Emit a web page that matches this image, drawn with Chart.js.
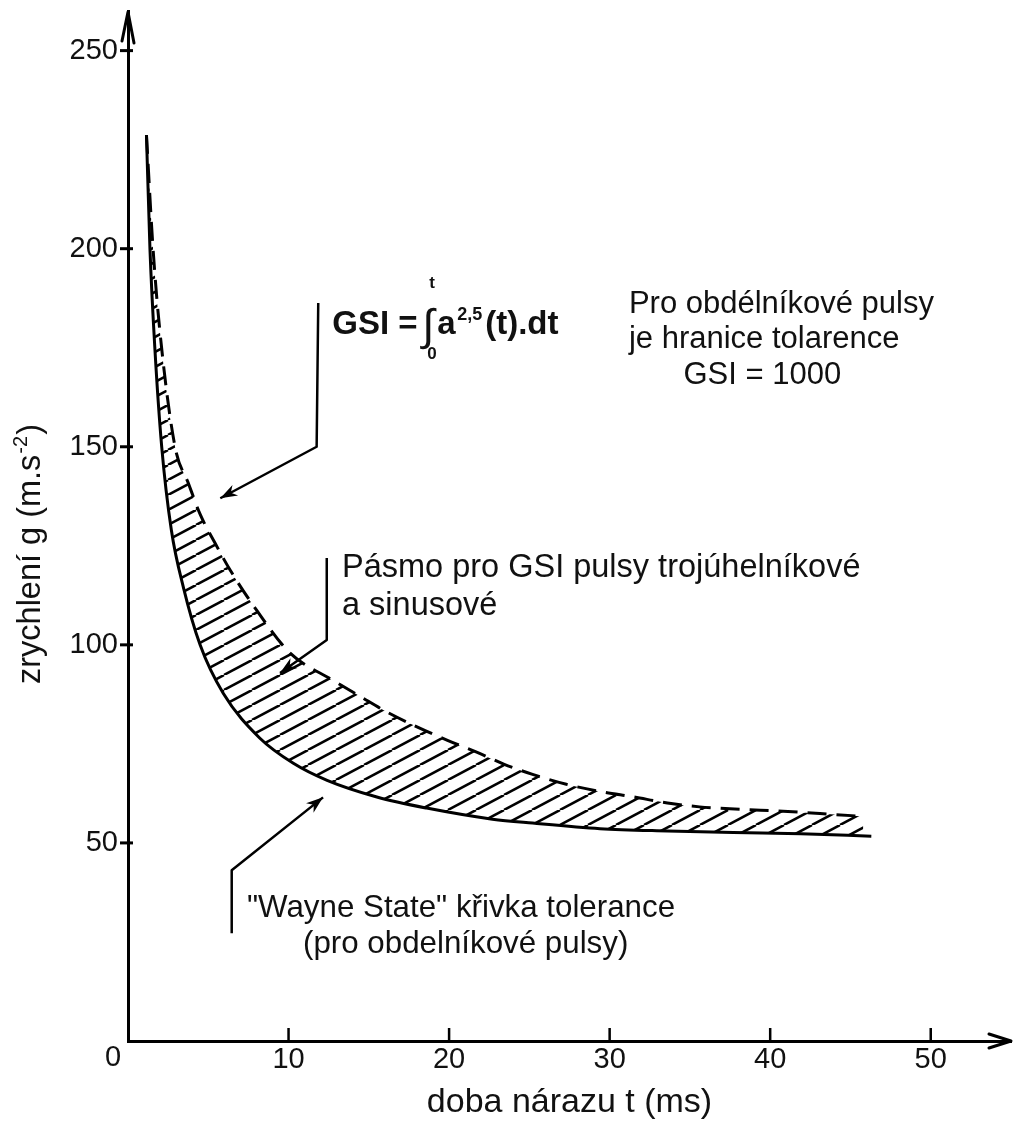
<!DOCTYPE html>
<html><head><meta charset="utf-8">
<script src="https://cdn.jsdelivr.net/npm/chart.js@4.4.1/dist/chart.umd.min.js"></script>
<style>html,body{margin:0;padding:0;background:#fff;}#wrap{width:1014px;height:1126px;position:relative;}</style>
</head><body><div id="wrap"><canvas id="c" width="1014" height="1126"></canvas></div>
<script>
// ---- data ----
const xTicks = [0, 10, 20, 30, 40, 50];
const yTicks = [0, 50, 100, 150, 200, 250];
// "Wayne State" tolerance curve (solid)
const solidT = [1.15, 1.37, 1.68, 2.1, 2.7, 3.45, 4.49, 5.94, 8.2, 10.3, 12.4, 15.5, 18.6, 22.7, 25.2, 29.4, 33.6, 37.7, 41.9, 46.3];
const solidG = [228.7, 199.7, 174.4, 150, 129, 114.5, 100, 87.7, 76.5, 70.1, 65.8, 61.6, 58.8, 56.0, 55.0, 53.6, 53.0, 52.6, 52.3, 51.7];
// GSI band upper limit (dashed)
const dashT = [1.15, 1.56, 2.0, 2.93, 3.76, 4.49, 5.42, 6.36, 8.0, 10.1, 12.8, 14.5, 16.1, 18.0, 19.9, 21.9, 23.4, 25.2, 27.3, 29.4, 31.5, 33.6, 35.6, 38.1, 40.8, 43.1, 45.8];
const dashG = [228.7, 200, 178.6, 150, 140.8, 133, 125.7, 118.9, 108.8, 97.9, 91.0, 86.9, 83.1, 79.3, 75.9, 72.6, 69.9, 67.3, 64.8, 63.0, 61.6, 60.1, 59.1, 58.5, 58.0, 57.4, 56.7];
const xTitle = 'doba nárazu t (ms)';
const yTitleMain = 'zrychlení g (m.s';
const yTitleSup = '-2';
const yTitleEnd = ')';

// ---- annotations (data coordinates) ----
const leaders = [
  [[11.85, 186.3], [11.75, 150.0], [5.75, 137.0]],
  [[12.38, 121.9], [12.38, 101.2], [9.47, 92.9]],
  [[6.46, 27.2], [6.46, 43.1], [12.15, 61.5]]
];
const notes = [
  {text: 'Pro obdélníkové pulsy', x: 31.2, y: 186.0, size: 31},
  {text: 'je hranice tolarence', x: 31.2, y: 177.0, size: 31},
  {text: 'GSI = 1000', x: 34.6, y: 168.0, size: 31},
  {text: 'Pásmo pro GSI pulsy trojúhelníkové', x: 13.33, y: 119.3, size: 32.5},
  {text: 'a sinusové', x: 13.33, y: 109.7, size: 32.5},
  {text: '"Wayne State" křivka tolerance', x: 7.41, y: 33.6, size: 31.3},
  {text: '(pro obdelníkové pulsy)', x: 10.9, y: 24.4, size: 31.3}
];
const formulaAnchor = {x: 12.72, y: 178.5};

const FONT = '"Liberation Sans", Arial, Helvetica, sans-serif';
Chart.defaults.font.family = FONT;
Chart.defaults.color = '#111';

function makeHatch() {
  const w = 28, h = 15;
  const c = document.createElement('canvas');
  c.width = w; c.height = h;
  const g = c.getContext('2d');
  g.strokeStyle = '#000'; g.lineWidth = 2.5;
  [-w, 0, w].forEach(o => { g.beginPath(); g.moveTo(o, h); g.lineTo(o + w, 0); g.stroke(); });
  return g.createPattern(c, 'repeat');
}

function arrowHead(ctx, x0, y0, x1, y1, len, half) {
  const a = Math.atan2(y1 - y0, x1 - x0);
  ctx.beginPath();
  ctx.moveTo(x1, y1);
  ctx.lineTo(x1 - len * Math.cos(a) + half * Math.sin(a), y1 - len * Math.sin(a) - half * Math.cos(a));
  ctx.lineTo(x1 - len * 0.7 * Math.cos(a), y1 - len * 0.7 * Math.sin(a));
  ctx.lineTo(x1 - len * Math.cos(a) - half * Math.sin(a), y1 - len * Math.sin(a) + half * Math.cos(a));
  ctx.closePath();
  ctx.fill();
}

const annot = {
  id: 'annot',
  afterDraw(chart) {
    const {ctx, chartArea: ca, scales: {x, y}} = chart;
    const X = v => x.getPixelForValue(v), Y = v => y.getPixelForValue(v);
    ctx.save();
    ctx.strokeStyle = '#000'; ctx.fillStyle = '#000';
    // tick marks
    ctx.lineWidth = 3;
    yTicks.filter(v => v > 0).forEach(v => { ctx.beginPath(); ctx.moveTo(ca.left - 8, Y(v)); ctx.lineTo(ca.left + 5, Y(v)); ctx.stroke(); });
    ctx.lineWidth = 2.5;
    xTicks.filter(v => v > 0).forEach(v => { ctx.beginPath(); ctx.moveTo(X(v), ca.bottom); ctx.lineTo(X(v), ca.bottom - 13); ctx.stroke(); });
    // axis arrows
    ctx.lineWidth = 3; ctx.lineJoin = 'round'; ctx.lineCap = 'round';
    ctx.beginPath(); ctx.moveTo(ca.left - 6, ca.top + 30); ctx.lineTo(ca.left, ca.top + 1); ctx.lineTo(ca.left + 6, ca.top + 32); ctx.stroke();
    ctx.beginPath(); ctx.moveTo(ca.right - 22, ca.bottom - 7); ctx.lineTo(ca.right, ca.bottom); ctx.lineTo(ca.right - 22, ca.bottom + 7); ctx.stroke();
    ctx.lineCap = 'butt';
    // leaders
    ctx.lineWidth = 2.5;
    leaders.forEach(p => {
      ctx.beginPath();
      p.forEach((q, i) => { const px = X(q[0]), py = Y(q[1]); if (i) ctx.lineTo(px, py); else ctx.moveTo(px, py); });
      ctx.stroke();
      const a = p[p.length - 2], b = p[p.length - 1];
      arrowHead(ctx, X(a[0]), Y(a[1]), X(b[0]), Y(b[1]), 17, 6);
    });
    // notes
    ctx.fillStyle = '#111'; ctx.textAlign = 'left'; ctx.textBaseline = 'middle';
    notes.forEach(n => { ctx.font = n.size + 'px ' + FONT; ctx.fillText(n.text, X(n.x), Y(n.y)); });
    // origin label
    ctx.textAlign = 'center';
    ctx.font = '29px ' + FONT;
    ctx.fillText('0', ca.left - 15, ca.bottom + 17);
    // formula
    const fx = X(formulaAnchor.x), fy = Y(formulaAnchor.y);
    ctx.textAlign = 'left'; ctx.textBaseline = 'alphabetic';
    ctx.font = 'bold 33px ' + FONT;
    ctx.fillText('GSI =', fx, fy);
    ctx.font = '44px ' + FONT;
    ctx.fillText('∫', fx + 90, fy + 6);
    ctx.font = 'bold 17px ' + FONT;
    ctx.fillText('t', fx + 97, fy - 46);
    ctx.fillText('0', fx + 95, fy + 25);
    ctx.font = 'bold 33px ' + FONT;
    ctx.fillText('a', fx + 105, fy);
    ctx.font = 'bold 18px ' + FONT;
    ctx.fillText('2,5', fx + 125, fy - 14);
    ctx.font = 'bold 33px ' + FONT;
    ctx.fillText('(t).dt', fx + 153, fy);
    // y title
    ctx.save();
    ctx.translate(31, 684);
    ctx.rotate(-Math.PI / 2);
    ctx.textBaseline = 'middle';
    ctx.font = '32.5px ' + FONT;
    ctx.fillText(yTitleMain, 0, 0);
    const w1 = ctx.measureText(yTitleMain).width;
    ctx.font = '20px ' + FONT;
    ctx.fillText(yTitleSup, w1 + 1, -10);
    const w2 = ctx.measureText(yTitleSup).width;
    ctx.font = '32.5px ' + FONT;
    ctx.fillText(yTitleEnd, w1 + w2 + 2, 0);
    ctx.restore();
    ctx.restore();
  }
};

const ctx = document.getElementById('c').getContext('2d');
new Chart(ctx, {
  type: 'line',
  data: {
    datasets: [
      {
        label: 'Wayne State',
        data: solidT.map((t, i) => ({x: t, y: solidG[i]})),
        borderColor: '#000', borderWidth: 3, pointRadius: 0,
        cubicInterpolationMode: 'monotone', fill: false
      },
      {
        label: 'GSI pásmo',
        data: dashT.map((t, i) => ({x: t, y: dashG[i]})),
        borderColor: '#000', borderWidth: 3, borderDash: [19, 10], pointRadius: 0,
        cubicInterpolationMode: 'monotone',
        fill: {target: 0}, backgroundColor: makeHatch()
      }
    ]
  },
  options: {
    responsive: false, animation: false,
    layout: {padding: {left: 0, right: 3, top: 11, bottom: 0}},
    plugins: {legend: {display: false}, tooltip: {enabled: false}},
    scales: {
      x: {
        type: 'linear', min: 0, max: 55,
        afterBuildTicks: s => { s.ticks = xTicks.map(v => ({value: v})); },
        grid: {display: false, drawTicks: false},
        border: {display: true, color: '#000', width: 3},
        ticks: {callback: v => v === 0 ? '' : String(v), font: {size: 29}, padding: 2, maxRotation: 0, autoSkip: false, color: '#111'},
        title: {display: true, text: xTitle, font: {size: 34}, color: '#111', padding: {top: 0, bottom: 3}},
        afterFit: s => { s.height = 85; s.paddingLeft = 0; s.paddingRight = 0; }
      },
      y: {
        type: 'linear', min: 0, max: 260,
        afterBuildTicks: s => { s.ticks = yTicks.map(v => ({value: v})); },
        grid: {display: false, drawTicks: false},
        border: {display: true, color: '#000', width: 3},
        ticks: {callback: v => v === 0 ? '' : String(v), font: {size: 29}, padding: 10, autoSkip: false, color: '#111'},
        afterFit: s => { s.width = 128; s.paddingTop = 0; s.paddingBottom = 0; }
      }
    }
  },
  plugins: [annot]
});
</script>
</body></html>
